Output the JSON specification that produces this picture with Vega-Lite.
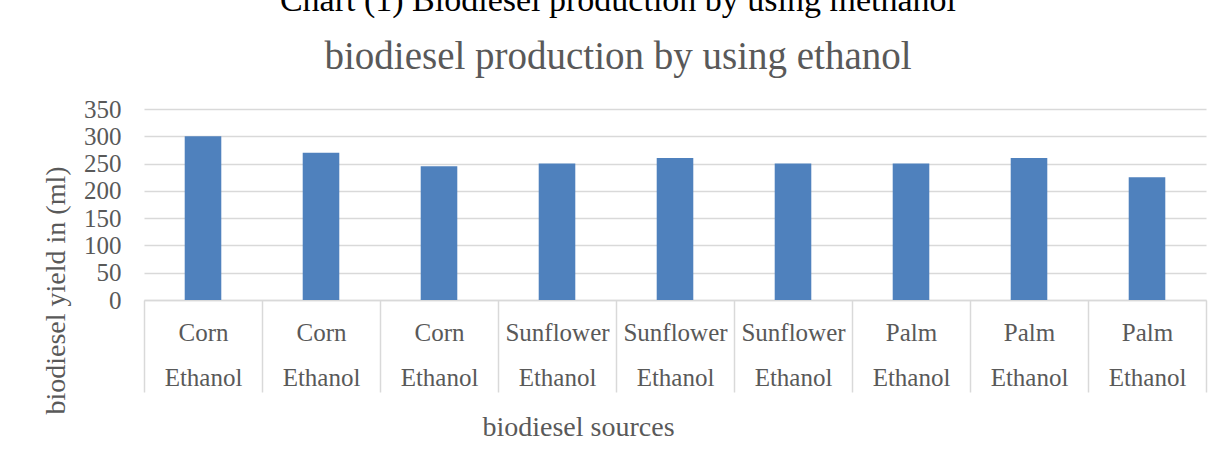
{
  "$schema": "https://vega.github.io/schema/vega-lite/v6.json",
  "width": 1062,
  "height": 191,
  "autosize": "none",
  "padding": {"left": 144, "top": 109, "right": 18, "bottom": 152},
  "background": "white",
  "title": {
    "text": "Chart (1) Biodiesel production by using methanol",
    "subtitle": "biodiesel production by using ethanol",
    "anchor": "middle",
    "dx": -57,
    "offset": 20,
    "font": "Liberation Serif",
    "fontSize": 34,
    "fontWeight": "normal",
    "color": "#000000",
    "subtitleFont": "Liberation Serif",
    "subtitleFontSize": 39,
    "subtitleColor": "#595959",
    "subtitlePadding": 20
  },
  "data": {
    "values": [
      {"sample": "Corn Ethanol 1", "yield": 300},
      {"sample": "Corn Ethanol 2", "yield": 270},
      {"sample": "Corn Ethanol 3", "yield": 245},
      {"sample": "Sunflower Ethanol 1", "yield": 250},
      {"sample": "Sunflower Ethanol 2", "yield": 260},
      {"sample": "Sunflower Ethanol 3", "yield": 250},
      {"sample": "Palm Ethanol 1", "yield": 250},
      {"sample": "Palm Ethanol 2", "yield": 260},
      {"sample": "Palm Ethanol 3", "yield": 225}
    ]
  },
  "mark": {"type": "bar", "color": "#4F81BD", "width": {"band": 0.31}},
  "encoding": {
    "x": {
      "field": "sample",
      "type": "nominal",
      "sort": null,
      "scale": {"paddingInner": 0, "paddingOuter": 0},
      "axis": {
        "title": "biodiesel sources",
        "titleFont": "Liberation Serif",
        "titleFontSize": 28,
        "titleFontWeight": "normal",
        "titleColor": "#595959",
        "titleX": 434,
        "titleY": 135,
        "titleBaseline": "alphabetic",
        "labelExpr": "datum.value ? [split(datum.value, ' ')[0], split(datum.value, ' ')[1]] : ''",
        "labelAngle": 0,
        "labelFont": "Liberation Serif",
        "labelFontSize": 25,
        "labelColor": "#595959",
        "labelLineHeight": 45,
        "labelBaseline": "alphabetic",
        "labelPadding": -52,
        "labelOverlap": false,
        "labelBound": false,
        "labelFlush": false,
        "labelLimit": 0,
        "tickBand": "extent",
        "tickSize": 92,
        "tickColor": "#d9d9d9",
        "tickWidth": 1.5,
        "domainColor": "#d9d9d9",
        "domainWidth": 1.5
      }
    },
    "y": {
      "field": "yield",
      "type": "quantitative",
      "scale": {"domain": [0, 350], "nice": false},
      "axis": {
        "title": "biodiesel yield in (ml)",
        "titleFont": "Liberation Serif",
        "titleFontSize": 28,
        "titleFontWeight": "normal",
        "titleColor": "#595959",
        "titleX": -88,
        "titleY": 181,
        "titleBaseline": "middle",
        "titleAlign": "center",
        "titleAngle": -90,
        "values": [0, 50, 100, 150, 200, 250, 300, 350],
        "labelFont": "Liberation Serif",
        "labelFontSize": 25,
        "labelColor": "#595959",
        "labelPadding": 23,
        "labelBaseline": "middle",
        "domain": false,
        "ticks": false,
        "grid": true,
        "gridColor": "#d9d9d9",
        "gridWidth": 1.5
      }
    }
  },
  "config": {"view": {"stroke": null}}
}
